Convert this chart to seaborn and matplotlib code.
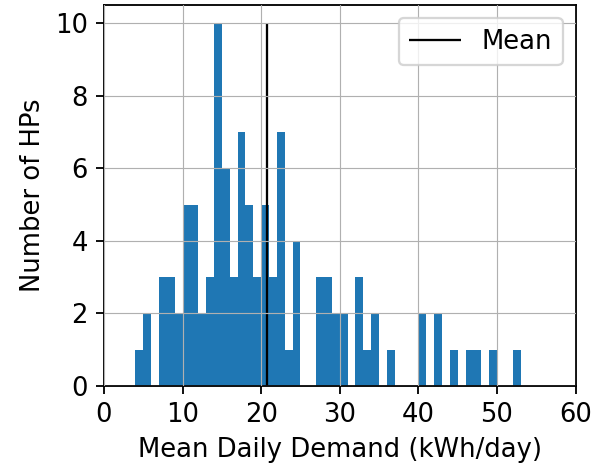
import numpy as np
import pandas as pd
import matplotlib
matplotlib.use("Agg")
import matplotlib.pyplot as plt
import seaborn as sns

# Histogram of mean daily heat-pump demand, 1 kWh/day bins
bin_left = [4, 5, 6, 7, 8, 9, 10, 11, 12, 13, 14, 15, 16, 17, 18, 19, 20, 21, 22, 23,
            24, 25, 26, 27, 28, 29, 30, 31, 32, 33, 34, 35, 36, 37, 38, 39, 40, 41, 42,
            43, 44, 45, 46, 47, 48, 49, 50, 51, 52]
counts = [1, 2, 0, 3, 3, 2, 5, 5, 2, 3, 10, 6, 3, 7, 5, 3, 5, 3, 7, 1,
          4, 0, 0, 3, 3, 2, 2, 0, 3, 1, 2, 0, 1, 0, 0, 0, 2, 0, 2,
          0, 1, 0, 1, 1, 0, 1, 0, 0, 1]
bin_width = 1.0
x_ticks = [0, 10, 20, 30, 40, 50, 60]
y_ticks = [0, 2, 4, 6, 8, 10]

df = pd.DataFrame({"demand": np.array(bin_left) + bin_width / 2, "n": counts})
edges = list(bin_left) + [bin_left[-1] + bin_width]
mean_demand = np.average(df["demand"], weights=df["n"])

sns.set_style("ticks")
plt.rcParams.update({
    "font.family": ["DejaVu Sans"],
    "font.size": 11.3,
    "text.color": "black",
    "axes.labelcolor": "black",
    "xtick.color": "black",
    "ytick.color": "black",
    "axes.edgecolor": "black",
})

fig = plt.figure(figsize=(594 / 165, 470 / 165), dpi=165)
ax = fig.add_axes([0.175, 0.1787, 0.969 - 0.175, 0.9887 - 0.1787])

sns.histplot(data=df, x="demand", weights="n", bins=edges, ax=ax,
             color="#1f77b4", alpha=1.0, edgecolor="none", linewidth=0)
# snap bar edges to pixels so neighbouring bars join without hairline gaps
for p in ax.patches:
    p.set_snap(True)
ax.vlines(mean_demand, 0, max(counts), colors="black", linewidth=1.0, label="Mean")

ax.set_xlim(0, 60)
ax.set_ylim(0, 10.5)
ax.set_xticks(x_ticks)
ax.set_yticks(y_ticks)
ax.set_xlabel("Mean Daily Demand (kWh/day)")
ax.set_ylabel("Number of HPs")
ax.grid(True, color="#b0b0b0", linewidth=0.5)
ax.set_axisbelow(False)
for s in ax.spines.values():
    s.set_visible(True)
    s.set_color("black")
    s.set_linewidth(0.8)
ax.tick_params(axis="both", direction="out", length=3.5, width=0.8,
               colors="black", labelcolor="black", labelsize=11.3)
ax.legend(loc="upper right", framealpha=0.8)

fig.savefig("out.png", dpi=165)
